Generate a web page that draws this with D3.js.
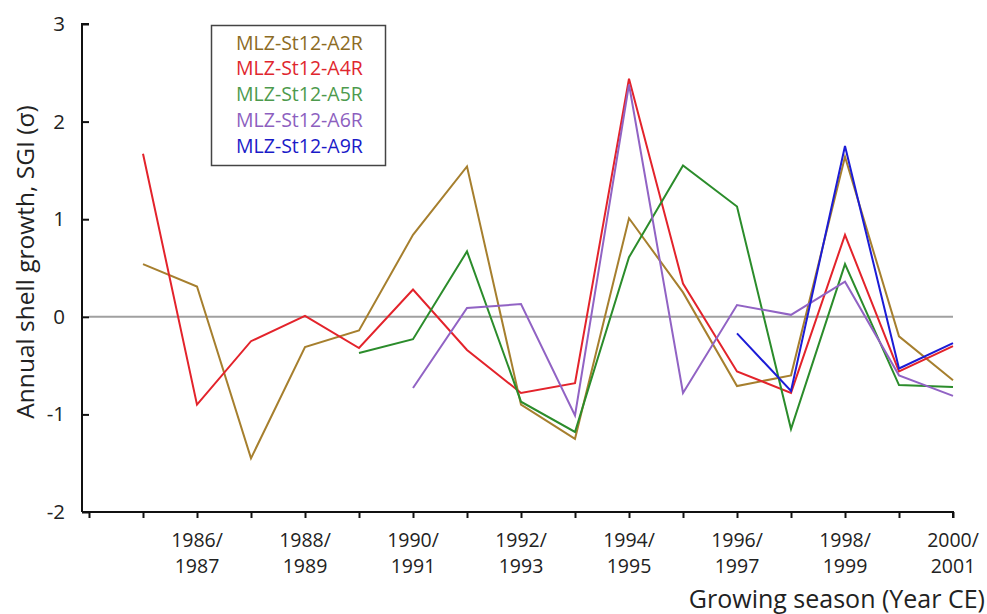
<!DOCTYPE html>
<html>
<head>
<meta charset="utf-8">
<script src="https://cdn.jsdelivr.net/npm/d3@7"></script>
<style>
  html, body { margin: 0; padding: 0; background: #fff; }
  svg { display: block; font-family: "Open Sans", "DejaVu Sans", sans-serif; }
</style>
</head>
<body>
<svg id="chart" width="987" height="614"></svg>
<script>
// Growing seasons: the first year of each season (1985 -> 1985/1986)
const years = [1985, 1986, 1987, 1988, 1989, 1990, 1991, 1992, 1993, 1994, 1995, 1996, 1997, 1998, 1999, 2000];

// Shell growth indices (SGI, in sigma) per specimen; null = no record
const seriesNames = ["MLZ-St12-A2R", "MLZ-St12-A4R", "MLZ-St12-A5R", "MLZ-St12-A6R", "MLZ-St12-A9R"];
const a2r = [0.54, 0.31, -1.45, -0.31, -0.14, 0.84, 1.54, -0.90, -1.25, 1.01, 0.25, -0.71, -0.60, 1.64, -0.20, -0.65];
const a4r = [1.67, -0.90, -0.25, 0.01, -0.32, 0.28, -0.34, -0.78, -0.68, 2.44, 0.34, -0.56, -0.78, 0.84, -0.56, -0.30];
const a5r = [null, null, null, null, -0.37, -0.23, 0.67, -0.87, -1.18, 0.61, 1.55, 1.13, -1.15, 0.54, -0.70, -0.72];
const a6r = [null, null, null, null, null, -0.73, 0.09, 0.13, -1.01, 2.38, -0.78, 0.12, 0.02, 0.36, -0.60, -0.81];
const a9r = [null, null, null, null, null, null, null, null, null, null, null, -0.17, -0.76, 1.75, -0.53, -0.27];

// Axis settings
const yTicks = [-2, -1, 0, 1, 2, 3];
const xTickYears = [1984, 1985, 1986, 1987, 1988, 1989, 1990, 1991, 1992, 1993, 1994, 1995, 1996, 1997, 1998, 1999, 2000];
const labelledYears = [1986, 1988, 1990, 1992, 1994, 1996, 1998, 2000];

const lineColors = ["#a67f2e", "#e3232b", "#2b8c2b", "#9163c4", "#1c1cd6"];
const textColors = ["#8c6b24", "#e0262e", "#4d9a4d", "#8d5fbf", "#1a1ac8"];
const allSeries = [a2r, a4r, a5r, a6r, a9r];

const svg = d3.select("#chart");

const x = d3.scaleLinear().domain([1984, 2000]).range([89, 953]);
const y = d3.scaleLinear().domain([-2, 3]).range([512, 24]);

// zero reference line
svg.append("line")
  .attr("x1", x(1984)).attr("x2", x(2000))
  .attr("y1", y(0)).attr("y2", y(0))
  .attr("stroke", "#a0a0a0").attr("stroke-width", 2);

// y axis (plain hyphen for negative values)
const yAxis = svg.append("g")
  .attr("transform", `translate(${x(1984)},0)`)
  .call(d3.axisLeft(y).tickValues(yTicks).tickSize(7).tickPadding(17).tickFormat(d => String(d)));
yAxis.select(".domain").attr("stroke", "#111").attr("stroke-width", 2)
  .attr("d", `M0,${y(3)}H-7V${y(-2)}`);
yAxis.selectAll(".tick line").attr("stroke", "#111").attr("stroke-width", 2);
yAxis.selectAll(".tick text").attr("font-size", 20.5).attr("fill", "#222")
  .attr("font-family", "Open Sans");

// x axis
const xAxis = svg.append("g")
  .attr("transform", `translate(0,${y(-2)})`)
  .call(d3.axisBottom(x).tickValues(xTickYears).tickSize(6).tickFormat(""));
xAxis.select(".domain").attr("stroke", "#111").attr("stroke-width", 2)
  .attr("d", `M${x(1984) - 7},0H${x(2000)}V6`);
xAxis.selectAll(".tick line").attr("stroke", "#111").attr("stroke-width", 2);

// two-line season labels
const seasonLabels = svg.append("g").attr("font-size", 19.5).attr("fill", "#222")
  .attr("text-anchor", "middle");
labelledYears.forEach(yr => {
  const t = seasonLabels.append("text").attr("x", x(yr));
  t.append("tspan").attr("x", x(yr)).attr("y", 547).text(yr + "/");
  t.append("tspan").attr("x", x(yr)).attr("y", 573).text(yr + 1);
});

// axis titles
svg.append("text")
  .attr("x", 985).attr("y", 608)
  .attr("text-anchor", "end").attr("font-size", 25).attr("fill", "#222")
  .text("Growing season (Year CE)");
svg.append("text")
  .attr("transform", `translate(34,262) rotate(-90)`)
  .attr("text-anchor", "middle").attr("font-size", 24.5).attr("fill", "#222")
  .text("Annual shell growth, SGI (σ)");

// series lines
const line = d3.line()
  .defined(d => d.v !== null)
  .x(d => x(d.year))
  .y(d => y(d.v));

allSeries.forEach((vals, i) => {
  const pts = years.map((yr, j) => ({ year: yr, v: vals[j] }));
  svg.append("path")
    .datum(pts)
    .attr("fill", "none")
    .attr("stroke", lineColors[i])
    .attr("stroke-width", 2)
    .attr("stroke-linejoin", "miter")
    .attr("d", line);
});

// legend
const legend = svg.append("g");
legend.append("rect")
  .attr("x", 211.5).attr("y", 25.5).attr("width", 174).attr("height", 140)
  .attr("fill", "#fff").attr("stroke", "#444").attr("stroke-width", 1.5);
seriesNames.forEach((name, i) => {
  legend.append("text")
    .attr("x", 236).attr("y", 49.5 + i * 25.8)
    .attr("font-size", 19.5).attr("fill", textColors[i])
    .text(name);
});
</script>
</body>
</html>
